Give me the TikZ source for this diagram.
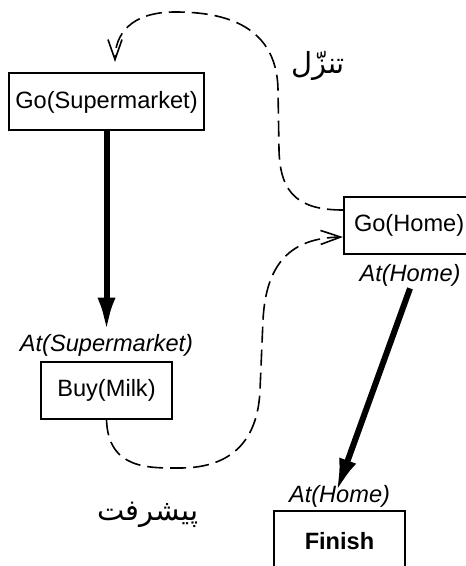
\documentclass[tikz,border=0pt]{standalone}
\usepackage{fontspec}
\setmainfont{Liberation Sans}
\newfontfamily\arabicfont[Script=Arabic]{DejaVu Sans}
\TeXXeTstate=1
\usetikzlibrary{arrows.meta,positioning,calc}

\begin{document}
\begin{tikzpicture}[x=0.5pt,y=-0.5pt,>=Latex,font=\fontsize{11.8}{14}\selectfont]
\tikzstyle{action}=[draw,line width=1pt,inner sep=0pt,minimum height=28.5pt,align=center]
\tikzstyle{cond}=[font=\fontsize{11.8}{14}\selectfont\itshape,inner sep=1pt]
\tikzstyle{causal}=[->,line width=3pt,arrows={-Latex[length=17pt,width=9pt]}]
\tikzstyle{threat}=[line width=.8pt,dash pattern=on 8pt off 3.5pt,arrows={-Straight Barb[length=10pt,width=7pt]}]
\tikzstyle{farsi}=[font=\fontsize{14.5}{16}\selectfont\arabicfont]
\useasboundingbox (0,0) rectangle (465,566);
\fill[white] (0,0) rectangle (465,566);
\node[action,minimum width=97.5pt] (gosm) at (106.5,102) {Go(Supermarket)};
\node[action,minimum width=65.5pt] (buy) at (106.5,390) {Buy(Milk)};
\node[action,anchor=west,inner xsep=5pt] (gohome) at (343,225.5) {Go(Home)\hspace*{12pt}};
\node[action,minimum width=65.5pt,minimum height=30pt] (finish) at (339.5,541) {\bfseries Finish};
\node[cond,above=1pt of buy] (atsm) {At(Supermarket)};
\node[cond] (athome) at (410,275) {At(Home)};
\node[cond,above=0pt of finish] (atfin) {At(Home)};
\coordinate (gosmin) at (115,62);
\node[farsi] (descend) at (318,66) {\beginR تنزّل\endR};
\node[farsi] (progress) at (148,515) {\beginR پیشرفت\endR};
\draw[causal] (gosm.south) -- (atsm.north);
\draw[causal,shorten >=-5pt] (athome.south) -- (atfin.north);
\draw[threat] ([yshift=7.75pt]gohome.west) .. controls (300,210) and (280,195) .. (279,150) -- (278,90) .. controls (277,20) and (215,12) .. (175,12) .. controls (130,12) and (115,35) .. (gosmin);
\draw[threat] (buy.south) .. controls (108,470) and (150,468) .. (180,468) .. controls (232,468) and (258,440) .. (260,390) -- (263,320) .. controls (266,262) and (292,238) .. ([yshift=-5.75pt]gohome.west);
\end{tikzpicture}
\end{document}
